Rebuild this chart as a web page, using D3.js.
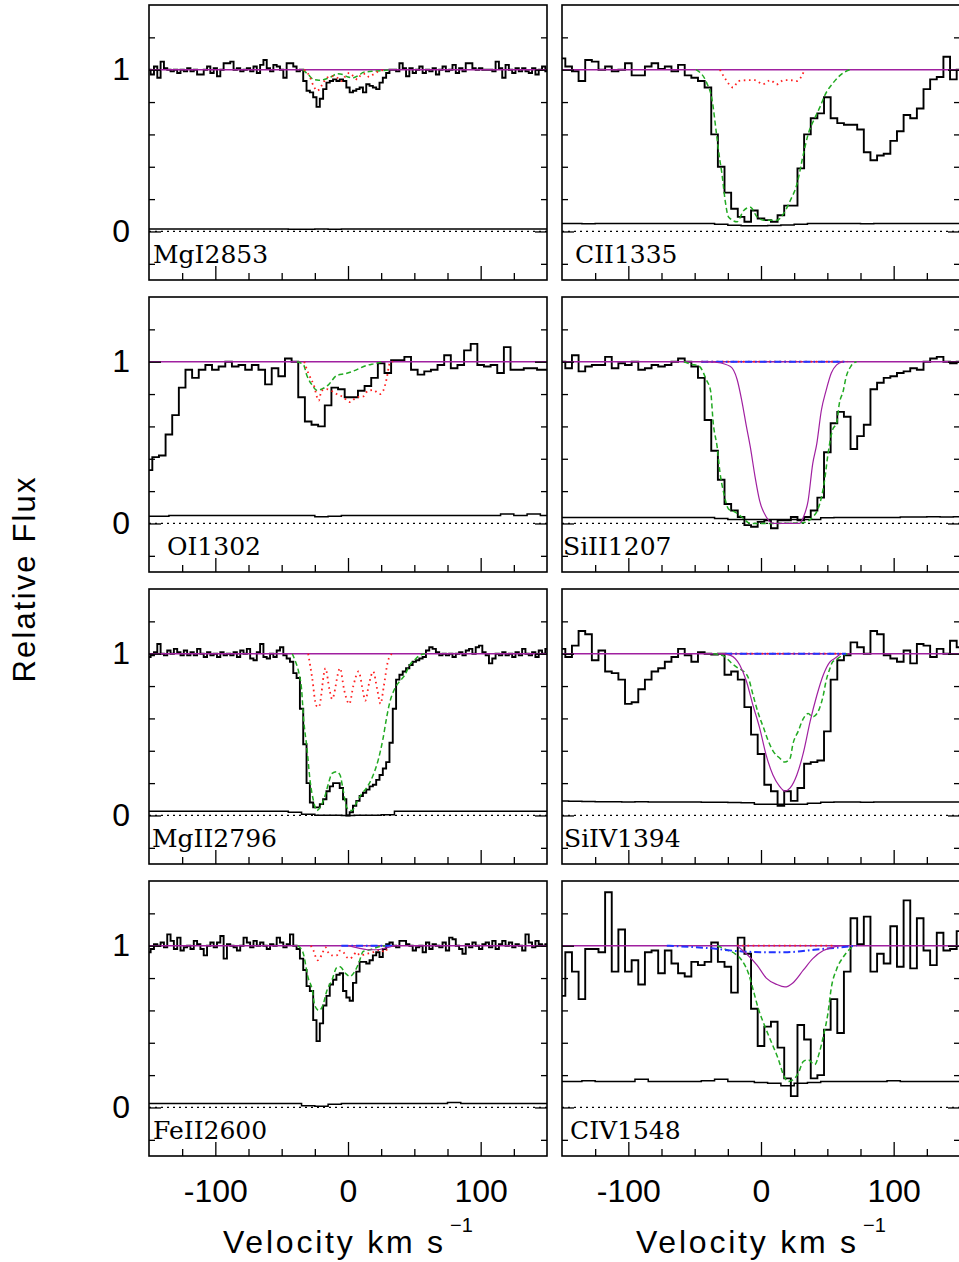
<!DOCTYPE html>
<html>
<head>
<meta charset="utf-8">
<script src="https://cdn.jsdelivr.net/npm/d3@7"></script>
<style>
  body { margin: 0; background: #fff; }
  svg { display: block; }
</style>
</head>
<body>
<script>
// ---- data ---------------------------------------------------------------
// fluxes: one value per pixel, velocity = v0 + i * dv
const mgIFlux = [
  1.00,0.97,1.02,0.95,1.05,1.01,1.00,0.99,1.00,0.98,
  1.00,0.99,1.01,0.99,1.00,0.97,0.97,1.00,1.02,0.98,
  1.01,0.96,1.00,1.04,1.04,1.05,1.00,1.01,0.99,1.00,
  1.01,0.99,1.02,0.98,1.03,1.06,1.01,0.99,1.03,1.02,
  1.00,0.95,1.04,1.04,1.02,0.99,1.00,0.93,0.87,0.86,
  0.83,0.77,0.82,0.88,0.92,0.93,0.94,0.93,0.94,0.93,
  0.89,0.86,0.87,0.88,0.89,0.86,0.91,0.90,0.89,0.88,
  0.92,0.95,0.98,1.00,1.00,0.99,1.04,1.01,0.96,1.01,
  0.98,1.00,1.02,0.98,1.00,0.99,1.01,0.97,1.00,1.02,
  0.99,1.00,1.03,0.98,1.01,0.99,1.04,1.04,1.01,1.00,
  1.01,1.00,1.00,1.00,0.99,1.05,1.01,0.95,1.03,1.00,
  0.98,1.01,0.99,1.01,0.99,0.98,1.01,0.97,1.00,1.02,
  0.99
];
const ciiFlux = [
  1.07,1.02,0.99,0.93,1.06,1.05,1.00,1.02,0.99,1.00,
  1.04,0.965,0.965,1.02,1.04,1.005,1.02,0.99,1.03,0.965,
  0.95,0.93,0.89,0.60,0.40,0.24,0.14,0.09,0.06,0.13,
  0.08,0.07,0.06,0.10,0.16,0.16,0.39,0.60,0.70,0.73,
  0.83,0.70,0.67,0.66,0.66,0.63,0.49,0.44,0.47,0.48,
  0.56,0.62,0.72,0.70,0.76,0.88,0.94,0.955,1.08,0.94,
  1.00
];
const oiFlux = [
  0.33,0.41,0.42,0.55,0.67,0.84,0.95,0.90,0.95,0.98,
  0.95,0.97,1.00,0.97,0.98,0.95,0.98,0.95,0.86,0.96,
  0.91,1.02,1.00,0.78,0.63,0.61,0.60,0.73,0.84,0.83,
  0.78,0.78,0.82,0.85,0.90,0.99,0.93,1.01,1.01,1.03,
  0.95,0.92,0.94,0.95,0.98,1.04,0.96,0.98,1.07,1.11,
  0.98,0.97,0.98,0.93,1.09,0.95,0.95,0.96,0.96,0.95,
  0.95
];
const siiiFlux = [
  1.00,0.96,1.04,0.94,0.97,0.98,0.98,1.03,0.96,0.99,
  0.98,1.00,0.95,0.96,0.98,0.97,0.98,1.00,1.02,1.00,
  0.97,0.90,0.64,0.45,0.27,0.12,0.08,0.04,-0.01,-0.02,
  0.01,0.02,-0.03,0.02,0.02,0.04,0.02,0.04,0.08,0.16,
  0.44,0.62,0.69,0.66,0.46,0.54,0.61,0.83,0.87,0.90,
  0.91,0.93,0.94,0.96,0.95,1.00,1.02,1.03,1.00,0.99,
  1.00
];
const mgiiFlux = [
  0.98,0.99,1.01,1.06,1.00,0.99,1.02,1.00,1.03,1.01,
  0.99,1.02,0.99,1.01,0.99,1.03,1.00,0.98,1.01,0.99,
  1.00,0.98,1.01,0.99,1.00,0.99,1.01,0.98,1.02,1.00,
  1.03,0.97,0.96,1.01,1.06,0.98,0.97,1.00,0.98,1.02,
  1.04,0.99,0.97,0.95,0.88,0.85,0.66,0.44,0.20,0.08,
  0.05,0.05,0.07,0.10,0.15,0.18,0.20,0.20,0.17,0.10,
  0.00,0.02,0.06,0.09,0.12,0.14,0.16,0.18,0.19,0.22,
  0.25,0.29,0.33,0.45,0.66,0.84,0.87,0.89,0.91,0.93,
  0.95,0.96,0.97,0.98,1.02,1.04,1.03,1.01,0.99,1.00,
  0.99,1.00,0.98,1.00,1.01,0.99,1.02,1.03,1.00,1.04,
  1.05,1.01,0.99,0.94,0.97,1.00,0.99,1.01,0.99,1.00,
  0.98,1.01,0.99,1.03,1.00,0.99,1.01,0.98,1.02,1.00,
  1.03
];
const siivFlux = [
  1.03,0.98,1.05,1.14,1.12,0.96,1.02,0.89,0.88,0.84,
  0.69,0.70,0.78,0.84,0.89,0.91,0.95,0.98,1.03,0.99,
  0.95,1.01,1.00,0.995,1.00,0.87,0.89,0.84,0.67,0.50,
  0.38,0.19,0.15,0.06,0.15,0.09,0.17,0.32,0.33,0.34,
  0.52,0.84,0.96,0.99,1.07,1.04,1.00,1.14,1.12,0.99,
  0.97,0.95,1.02,0.94,1.06,1.05,0.98,1.03,1.00,1.08,
  1.04
];
const feiiFlux = [
  0.96,0.98,1.01,1.00,1.02,0.99,1.07,1.03,0.98,1.05,
  0.97,0.99,1.00,0.98,1.03,1.01,0.98,0.94,1.00,1.02,
  0.99,1.02,1.06,0.92,1.01,1.00,0.99,0.97,1.00,1.05,
  1.02,0.99,1.03,1.00,1.02,1.00,0.98,1.01,1.00,1.05,
  1.02,0.99,1.01,1.07,1.00,0.98,0.92,0.85,0.75,0.72,
  0.54,0.41,0.52,0.63,0.69,0.76,0.79,0.82,0.83,0.72,
  0.68,0.66,0.77,0.84,0.90,0.90,0.89,0.91,0.94,0.96,
  0.93,0.98,1.01,1.02,1.00,0.99,1.03,1.03,1.01,1.00,
  0.97,0.99,1.00,0.96,1.02,0.98,1.01,1.00,0.99,1.02,
  0.97,1.05,1.04,1.00,0.98,0.95,1.01,0.99,1.02,1.00,
  0.98,1.01,1.02,0.99,1.03,0.98,1.01,1.03,1.00,1.02,
  0.99,1.01,1.00,0.97,1.07,1.02,0.99,1.03,1.01,1.00,
  1.01
];
const civFlux = [
  0.69,0.96,0.84,0.67,0.98,0.98,0.96,1.33,0.84,1.10,
  0.84,0.91,0.76,0.96,0.97,0.83,0.97,0.89,0.83,0.81,
  0.90,0.88,0.90,1.02,0.90,0.87,0.71,1.05,0.95,0.61,
  0.38,0.50,0.53,0.37,0.18,0.07,0.51,0.42,0.18,0.20,
  0.48,0.67,0.46,0.84,1.17,1.01,1.18,0.84,0.95,0.89,
  1.12,0.87,1.28,0.86,1.17,0.97,0.88,1.08,0.97,0.98,
  1.09
];

// error spectra, every 10 km/s from -150 to 150
const mgIErr  = [0.016,0.016,0.015,0.016,0.016,0.015,0.016,0.016,0.015,0.016,0.015,0.014,0.014,0.015,0.014,0.015,0.016,0.016,0.015,0.016,0.016,0.015,0.016,0.016,0.015,0.016,0.016,0.015,0.016,0.016,0.016];
const ciiErr  = [0.05,0.05,0.047,0.05,0.05,0.05,0.05,0.05,0.05,0.05,0.05,0.05,0.045,0.038,0.036,0.036,0.037,0.04,0.045,0.05,0.05,0.05,0.05,0.048,0.05,0.05,0.05,0.05,0.05,0.05,0.05];
const oiErr   = [0.045,0.045,0.05,0.05,0.05,0.05,0.05,0.05,0.05,0.05,0.05,0.05,0.05,0.042,0.044,0.05,0.05,0.05,0.05,0.05,0.05,0.05,0.05,0.05,0.05,0.05,0.05,0.058,0.05,0.058,0.05];
const siiiErr = [0.037,0.037,0.037,0.037,0.037,0.037,0.037,0.037,0.037,0.037,0.037,0.037,0.03,0.025,0.025,0.025,0.025,0.025,0.025,0.025,0.036,0.037,0.037,0.037,0.037,0.037,0.04,0.04,0.042,0.04,0.042];
const mgiiErr = [0.026,0.026,0.026,0.026,0.026,0.026,0.026,0.026,0.026,0.026,0.026,0.02,0.008,0.002,0.002,0.0,0.002,0.002,0.005,0.026,0.026,0.026,0.026,0.026,0.026,0.026,0.026,0.026,0.026,0.026,0.026];
const siivErr = [0.09,0.088,0.086,0.085,0.085,0.084,0.085,0.083,0.084,0.083,0.083,0.082,0.082,0.08,0.078,0.07,0.07,0.07,0.07,0.075,0.082,0.083,0.083,0.082,0.083,0.083,0.083,0.083,0.083,0.083,0.083];
const feiiErr = [0.025,0.025,0.025,0.025,0.025,0.025,0.025,0.025,0.025,0.025,0.025,0.025,0.01,0.008,0.02,0.025,0.025,0.025,0.025,0.025,0.025,0.025,0.025,0.03,0.025,0.025,0.025,0.025,0.025,0.025,0.025];
const civErr  = [0.16,0.16,0.165,0.16,0.16,0.16,0.175,0.16,0.16,0.16,0.16,0.165,0.175,0.16,0.16,0.155,0.15,0.135,0.15,0.155,0.16,0.16,0.16,0.16,0.16,0.165,0.16,0.16,0.16,0.16,0.16];

// model profiles, [velocity, flux]
const mgIGreen = [[-34,1],[-30,0.97],[-26,0.94],[-22,0.935],[-18,0.94],[-13,0.955],[-8,0.975],[-4,0.97],[0,0.955],[4,0.95],[8,0.965],[12,0.985],[18,0.99],[26,0.995],[32,1]];
const mgIRed   = [[-33,1],[-29,0.96],[-26,0.9],[-23,0.87],[-20,0.9],[-16,0.95],[-12,0.96],[-8,0.95],[-5,0.93],[-2,0.96],[1,0.98],[4,0.96],[7,0.94],[10,0.97],[13,0.975],[16,0.955],[19,0.97],[23,0.99],[28,1]];
const ciiGreen = [[-49,1],[-41,0.92],[-37,0.82],[-33.5,0.6],[-31,0.44],[-29.5,0.36],[-27,0.19],[-24.5,0.09],[-18,0.06],[-13,0.13],[-8,0.15],[-3,0.09],[2,0.07],[12,0.07],[17,0.11],[22,0.19],[27,0.29],[32,0.48],[35.5,0.6],[40.5,0.7],[44.5,0.77],[48,0.84],[54.5,0.92],[62,0.98],[67,1]];
const ciiRed   = [[-31,1],[-27,0.945],[-21,0.89],[-17,0.93],[-11,0.935],[-4.5,0.935],[1.5,0.91],[7,0.935],[12,0.91],[17,0.935],[22,0.935],[27,0.93],[33,1]];
const oiGreen  = [[-38.5,1],[-33.5,0.98],[-31,0.915],[-27,0.855],[-23.5,0.823],[-20,0.83],[-15,0.855],[-8.5,0.915],[-2,0.926],[4,0.942],[14,0.977],[20,0.988],[26.5,1]];
const oiRed    = [[-33,1],[-30,0.93],[-26,0.86],[-22,0.76],[-20,0.82],[-16,0.83],[-8.5,0.8],[-3.5,0.78],[1.5,0.75],[6.5,0.78],[11.5,0.785],[15,0.82],[19,0.825],[24,0.8],[26.5,0.82],[29,0.89],[31.5,0.99],[34,1]];
const siiiGreen  = [[-58,1],[-53,0.985],[-47,0.975],[-41,0.885],[-38,0.82],[-36,0.62],[-33,0.47],[-31,0.32],[-28,0.185],[-24.5,0.09],[-19.5,0.07],[-14.5,0.04],[-8,0.0],[7,0.0],[32,0.005],[39,0.04],[43,0.09],[45.5,0.16],[48,0.27],[50.5,0.43],[54,0.58],[57,0.62],[59,0.74],[62,0.82],[64,0.9],[68,0.975],[72,1]];
const siiiRed    = [[-45,1],[65,1]];
const siiiBlue   = [[-45,1],[65,1]];
const siiiPurple = [[-45,1],[-33,0.995],[-23,0.97],[-18,0.89],[-14.5,0.76],[-11,0.6],[-8,0.47],[-4.5,0.29],[-1,0.14],[4,0.04],[9,0.0],[29,0.0],[32,0.04],[35.5,0.14],[39,0.37],[42,0.49],[45.5,0.7],[49,0.82],[53,0.93],[57,0.98],[62,1]];
const mgiiGreen = [[-42,1],[-40,0.96],[-37,0.88],[-35,0.78],[-33.5,0.6],[-31,0.42],[-28.5,0.21],[-26,0.09],[-23.5,0.03],[-21,0.05],[-17,0.13],[-15,0.19],[-12,0.26],[-8.5,0.27],[-6,0.25],[-3.5,0.15],[-1,0.05],[3,0.03],[6.5,0.08],[10,0.13],[14,0.17],[19,0.25],[23,0.35],[26.5,0.48],[29,0.6],[31.5,0.7],[35,0.78],[39,0.83],[43,0.87],[46.5,0.93],[50,0.96],[54,0.99],[58,1]];
const mgiiRed   = [[-30,1],[-27,0.85],[-24,0.68],[-22,0.67],[-17,0.91],[-14,0.78],[-12,0.72],[-6,0.91],[-3,0.78],[1,0.69],[4,0.8],[8,0.89],[11,0.78],[13,0.71],[16,0.82],[19,0.89],[22,0.78],[24.5,0.69],[27,0.8],[30,0.95],[33,1]];
const siivGreen  = [[-36,1],[-28,0.985],[-22,0.94],[-17,0.91],[-13,0.89],[-9.5,0.85],[-6,0.745],[-2,0.63],[2,0.54],[5.5,0.46],[9,0.4],[14,0.355],[18,0.33],[22,0.355],[24,0.44],[28,0.52],[32,0.6],[35.5,0.63],[39,0.61],[44,0.66],[47,0.745],[49,0.83],[52,0.91],[54,0.95],[57,0.965],[60.5,0.985],[65,1]];
const siivRed    = [[-27,1],[60,1]];
const siivBlue   = [[-27,1],[64,1]];
const siivPurple = [[-30,1],[-23,0.99],[-16,0.93],[-11,0.83],[-6,0.68],[-1,0.54],[4,0.37],[9,0.25],[14,0.18],[18,0.15],[22,0.17],[27,0.25],[32,0.39],[37,0.58],[42,0.74],[47,0.87],[52,0.95],[55.5,0.97],[60,1]];
const feiiGreen  = [[-38,1],[-34,0.96],[-30,0.8],[-27,0.73],[-25,0.63],[-22,0.6],[-19,0.63],[-16,0.72],[-12,0.79],[-8.5,0.865],[-6,0.87],[-2,0.83],[1.5,0.81],[5,0.84],[8,0.89],[11.5,0.965],[16.5,0.975],[24,0.995],[29,1]];
const feiiRed    = [[-28,1],[-26,0.97],[-23,0.91],[-20,0.94],[-17,0.99],[-15,0.96],[-12,0.94],[-8.5,0.94],[-6,0.97],[-3.5,0.96],[-1,0.93],[1.5,0.92],[4,0.94],[6.5,0.96],[9,0.94],[14,0.95],[19,0.96],[24,0.975],[28,0.96],[30,1]];
const feiiBlue   = [[-5,1],[35,1]];
const feiiPurple = [[0,1],[8,0.985],[15,0.975],[22,0.975],[28,0.985],[35,1]];
const civGreen  = [[-33,1],[-26,0.975],[-19.5,0.95],[-14.5,0.91],[-9.5,0.83],[-6,0.73],[-2,0.61],[3,0.5],[8,0.4],[13,0.3],[17,0.2],[20.5,0.16],[24,0.17],[28,0.21],[32,0.285],[35.5,0.295],[40.5,0.265],[44,0.34],[47,0.44],[50.5,0.585],[53,0.74],[57,0.855],[62,0.93],[67,0.98],[70.5,1]];
const civRed    = [[-18,1],[54,1]];
const civBlue   = [[-71,1],[-40,0.985],[-15,0.965],[0,0.96],[20,0.96],[40,0.975],[60,0.99],[72,1]];
const civPurple = [[-18,1],[-11,0.95],[-3,0.88],[4,0.8],[12,0.76],[18,0.745],[24,0.77],[32,0.85],[39,0.92],[47,0.97],[54,0.99],[60,1]];

const vTicksMajor = [-100, 0, 100];
const vTicksMinor = [-125, -75, -50, -25, 25, 50, 75, 125];
const fTicksMajor = [0, 1];
const fTicksMinor = [-0.2, 0.2, 0.4, 0.6, 0.8, 1.2];

// ---- layout ---------------------------------------------------------------
const W = 959, H = 1262;
const colX = [149, 562];
const rowY = [5, 297, 589, 881];
const panelW = 398, panelH = 275;
const vDomain = [-150, 150];
const fDomain = [-0.3, 1.4];
const errStep = 10;

const colors = {black: "#000", purple: "#a020a0", green: "#22aa22", red: "#ff2020", blue: "#2233ff"};
const styles = {
  green:  {stroke: colors.green,  width: 1.5, dash: "5,3"},
  red:    {stroke: colors.red,    width: 1.8, dash: "1.6,3.6"},
  blue:   {stroke: colors.blue,   width: 2,   dash: "7,3,1.6,3"},
  purple: {stroke: colors.purple, width: 1.2, dash: null}
};

const panels = [
  {label: "MgI2853",  col: 0, row: 0, lx: 4,  v0: -150, dv: 2.5, flux: mgIFlux,  err: mgIErr,  models: [["green", mgIGreen], ["red", mgIRed]]},
  {label: "CII1335",  col: 1, row: 0, lx: 13, v0: -150, dv: 5,   flux: ciiFlux,  err: ciiErr,  models: [["green", ciiGreen], ["red", ciiRed]]},
  {label: "OI1302",   col: 0, row: 1, lx: 18, v0: -150, dv: 5,   flux: oiFlux,   err: oiErr,   models: [["green", oiGreen], ["red", oiRed]]},
  {label: "SiII1207", col: 1, row: 1, lx: 1,  v0: -150, dv: 5,   flux: siiiFlux, err: siiiErr, models: [["green", siiiGreen], ["red", siiiRed], ["blue", siiiBlue], ["purple", siiiPurple]]},
  {label: "MgII2796", col: 0, row: 2, lx: 3,  v0: -150, dv: 2.5, flux: mgiiFlux, err: mgiiErr, models: [["green", mgiiGreen], ["red", mgiiRed]]},
  {label: "SiIV1394", col: 1, row: 2, lx: 2,  v0: -150, dv: 5,   flux: siivFlux, err: siivErr, models: [["green", siivGreen], ["red", siivRed], ["blue", siivBlue], ["purple", siivPurple]]},
  {label: "FeII2600", col: 0, row: 3, lx: 4,  v0: -150, dv: 2.5, flux: feiiFlux, err: feiiErr, models: [["green", feiiGreen], ["red", feiiRed], ["blue", feiiBlue], ["purple", feiiPurple]]},
  {label: "CIV1548",  col: 1, row: 3, lx: 8,  v0: -150, dv: 5,   flux: civFlux,  err: civErr,  models: [["green", civGreen], ["red", civRed], ["blue", civBlue], ["purple", civPurple]]}
];

const svg = d3.select("body").append("svg")
    .attr("width", W)
    .attr("height", H);

const defs = svg.append("defs");

function styleAxis(g, withLabels) {
    g.select(".domain").remove();
    g.selectAll(".tick line").attr("stroke", "#000").attr("stroke-width", 1.3);
    g.attr("font-family", "'Liberation Sans', Arial, sans-serif").attr("font-size", 32);
    if (!withLabels) g.selectAll(".tick text").remove();
    else g.selectAll(".tick text").attr("fill", "#000");
}

panels.forEach((p, k) => {
    const left = colX[p.col], top = rowY[p.row];
    const x = d3.scaleLinear().domain(vDomain).range([left, left + panelW]);
    const y = d3.scaleLinear().domain(fDomain).range([top + panelH, top]);

    defs.append("clipPath").attr("id", "clip" + k)
      .append("rect")
        .attr("x", left).attr("y", top)
        .attr("width", panelW).attr("height", panelH);

    const g = svg.append("g").attr("clip-path", `url(#clip${k})`);

    const step = d3.line().curve(d3.curveStep).x(d => x(d[0])).y(d => y(d[1]));
    const smooth = d3.line().curve(d3.curveMonotoneX).x(d => x(d[0])).y(d => y(d[1]));

    // zero level
    g.append("path")
        .attr("fill", "none")
        .attr("stroke", "#000")
        .attr("stroke-width", 1.3)
        .attr("stroke-dasharray", "2,4")
        .attr("d", step(vDomain.map(v => [v, 0])));

    // error spectrum
    g.append("path")
        .attr("fill", "none")
        .attr("stroke", "#000")
        .attr("stroke-width", 1.5)
        .attr("d", step(p.err.map((e, i) => [vDomain[0] + i * errStep, e])));

    // data
    g.append("path")
        .attr("fill", "none")
        .attr("stroke", "#000")
        .attr("stroke-width", 1.9)
        .attr("d", step(p.flux.map((f, i) => [p.v0 + i * p.dv, f])));

    // continuum
    g.append("path")
        .attr("fill", "none")
        .attr("stroke", colors.purple)
        .attr("stroke-width", 1.6)
        .attr("d", step(vDomain.map(v => [v, 1])));

    // fitted components
    p.models.forEach(([kind, pts]) => {
        const s = styles[kind];
        g.append("path")
            .attr("fill", "none")
            .attr("stroke", s.stroke)
            .attr("stroke-width", s.width)
            .attr("stroke-dasharray", s.dash)
            .attr("d", smooth(pts));
    });

    // frame
    svg.append("rect")
        .attr("x", left).attr("y", top)
        .attr("width", panelW).attr("height", panelH)
        .attr("fill", "none")
        .attr("stroke", "#000")
        .attr("stroke-width", 1.6);

    const showY = p.col === 0;
    const showX = p.row === rowY.length - 1;

    // y ticks, inward on both sides
    svg.append("g").attr("transform", `translate(${left},0)`)
        .call(d3.axisLeft(y).tickValues(fTicksMinor).tickSize(-6))
        .call(g => styleAxis(g, false));
    svg.append("g").attr("transform", `translate(${left},0)`)
        .call(d3.axisLeft(y).tickValues(fTicksMajor).tickSize(-12).tickPadding(19).tickFormat(d => String(d)))
        .call(g => styleAxis(g, showY));
    svg.append("g").attr("transform", `translate(${left + panelW},0)`)
        .call(d3.axisRight(y).tickValues(fTicksMinor).tickSize(-6))
        .call(g => styleAxis(g, false));
    svg.append("g").attr("transform", `translate(${left + panelW},0)`)
        .call(d3.axisRight(y).tickValues(fTicksMajor).tickSize(-12))
        .call(g => styleAxis(g, false));

    // x ticks, inward at the bottom
    svg.append("g").attr("transform", `translate(0,${top + panelH})`)
        .call(d3.axisBottom(x).tickValues(vTicksMinor).tickSize(-7))
        .call(g => styleAxis(g, false));
    svg.append("g").attr("transform", `translate(0,${top + panelH})`)
        .call(d3.axisBottom(x).tickValues(vTicksMajor).tickSize(-14).tickPadding(23).tickFormat(d => String(d)))
        .call(g => styleAxis(g, showX));

    // ion label
    svg.append("text")
        .attr("x", left + p.lx)
        .attr("y", top + 258)
        .attr("font-family", "'DejaVu Serif', 'Liberation Serif', serif")
        .attr("font-size", 25)
        .attr("fill", "#000")
        .text(p.label);

    // x axis title under the bottom row
    if (showX) {
        svg.append("text")
            .attr("x", left + 74)
            .attr("y", 1253)
            .attr("font-family", "'Liberation Sans', Arial, sans-serif")
            .attr("font-size", 32)
            .attr("textLength", 220)
            .attr("lengthAdjust", "spacing")
            .attr("fill", "#000")
            .text("Velocity km s");
        svg.append("text")
            .attr("x", left + 301)
            .attr("y", 1232)
            .attr("font-family", "'Liberation Sans', Arial, sans-serif")
            .attr("font-size", 20)
            .attr("fill", "#000")
            .text("\u22121");
    }
});

svg.append("text")
    .attr("transform", "translate(35,580) rotate(-90)")
    .attr("text-anchor", "middle")
    .attr("font-family", "'Liberation Sans', Arial, sans-serif")
    .attr("font-size", 31)
    .attr("textLength", 205)
    .attr("lengthAdjust", "spacing")
    .attr("fill", "#000")
    .text("Relative Flux");
</script>
</body>
</html>
